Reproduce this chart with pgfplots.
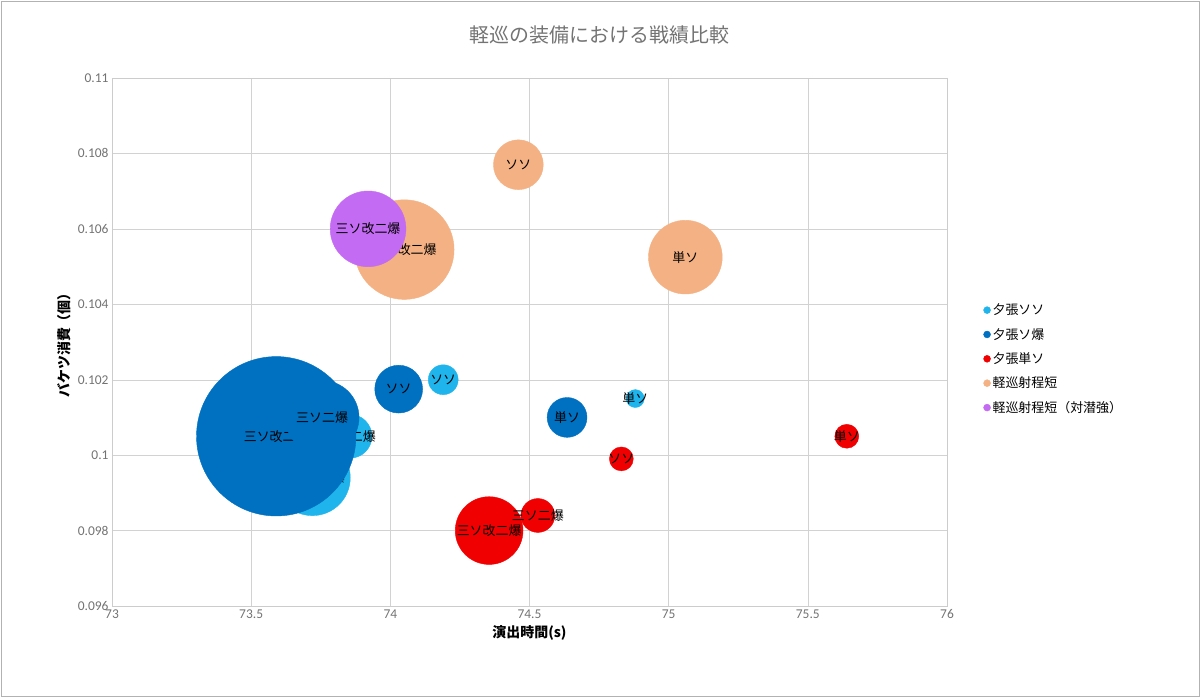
\documentclass[border=0pt]{standalone}
\usepackage{pgfplots}
\pgfplotsset{compat=1.18}
\usepackage{fontspec}
\setmainfont{Noto Sans CJK JP}
\newfontfamily\numfont{Carlito}
\definecolor{lb}{HTML}{1FB4EC}
\definecolor{db}{HTML}{0070C0}
\definecolor{rd}{HTML}{F00000}
\definecolor{og}{HTML}{F4B183}
\definecolor{pp}{HTML}{C36BF2}
\pgfplotsset{bub/.style 2 args={only marks, mark=*, color=#1, mark size=#2pt, forget plot,
  point meta=explicit symbolic,
  nodes near coords, nodes near coords align={center},
  every node near coord/.append style={anchor=center, text=black, font=\fontsize{13}{15}\selectfont, inner sep=0pt}}}
\begin{document}
\begin{tikzpicture}
\begin{axis}[name=ax, scale only axis, width=835bp, height=528bp,
 xmin=73, xmax=76, ymin=0.096, ymax=0.11,
 xtick={73,73.5,...,76}, xticklabels={73,73.5,74,74.5,75,75.5,76},
 ytick={0.096,0.098,...,0.1105}, yticklabels={0.096,0.098,0.1,0.102,0.104,0.106,0.108,0.11},
 grid=major, major grid style={gray!35}, axis line style={gray!40}, tick style={draw=none},
 ticklabel style={font=\numfont\fontsize{13.5}{15}\selectfont, text=gray!90!black},
 xlabel={\textbf{演出時間(s)}}, ylabel={\textbf{バケツ消費（個）}},
 label style={font=\fontsize{14}{16}\selectfont},
 legend style={at={(1.04,0.58)}, anchor=north west, draw=none, font=\fontsize{13}{15}\selectfont, row sep=8pt},
 legend cell align=left, clip=false]
\addlegendimage{only marks, mark=*, color=lb, mark size=3.5pt}\addlegendentry{夕張ソソ}
\addlegendimage{only marks, mark=*, color=db, mark size=3.5pt}\addlegendentry{夕張ソ爆}
\addlegendimage{only marks, mark=*, color=rd, mark size=3.5pt}\addlegendentry{夕張単ソ}
\addlegendimage{only marks, mark=*, color=og, mark size=3.5pt}\addlegendentry{軽巡射程短}
\addlegendimage{only marks, mark=*, color=pp, mark size=3.5pt}\addlegendentry{軽巡射程短（対潜強）}
% 夕張ソソ
\addplot[bub={lb}{15}] coordinates {(74.19,0.1020) [ソソ]};
\addplot[bub={lb}{9}] coordinates {(74.88,0.1015) [単ソ]};
\addplot[bub={lb}{22}] coordinates {(73.855,0.1005) [三ソ二爆]};
\addplot[bub={lb}{38}] coordinates {(73.72,0.0994) [三ソ改二爆]};
% 夕張ソ爆
\addplot[bub={db}{80}] coordinates {(73.59,0.1005) [三ソ改二爆]};
\addplot[bub={db}{37}] coordinates {(73.755,0.1010) [三ソ二爆]};
\addplot[bub={db}{24}] coordinates {(74.03,0.10175) [ソソ]};
\addplot[bub={db}{20}] coordinates {(74.635,0.1010) [単ソ]};
% 夕張単ソ
\addplot[bub={rd}{34}] coordinates {(74.355,0.0980) [三ソ改二爆]};
\addplot[bub={rd}{17}] coordinates {(74.53,0.0984) [三ソ二爆]};
\addplot[bub={rd}{12}] coordinates {(74.83,0.0999) [ソソ]};
\addplot[bub={rd}{12}] coordinates {(75.64,0.1005) [単ソ]};
% 軽巡射程短
\addplot[bub={og}{25}] coordinates {(74.46,0.1077) [ソソ]};
\addplot[bub={og}{37}] coordinates {(75.06,0.10525) [単ソ]};
\addplot[bub={og}{50}] coordinates {(74.05,0.10545) [三ソ改二爆]};
% 軽巡射程短（対潜強）
\addplot[bub={pp}{38}] coordinates {(73.92,0.1060) [三ソ改二爆]};
\end{axis}
\draw[gray!60] ([shift={(-111bp,-90bp)}]ax.south west) rectangle ([shift={(252bp,77bp)}]ax.north east);
\useasboundingbox ([shift={(-112bp,-91bp)}]ax.south west) rectangle ([shift={(253bp,78bp)}]ax.north east);
\node[text=gray!90!black, font=\fontsize{20}{24}\selectfont] at ([shift={(70bp,43bp)}]ax.north) {軽巡の装備における戦績比較};
\end{tikzpicture}
\end{document}
